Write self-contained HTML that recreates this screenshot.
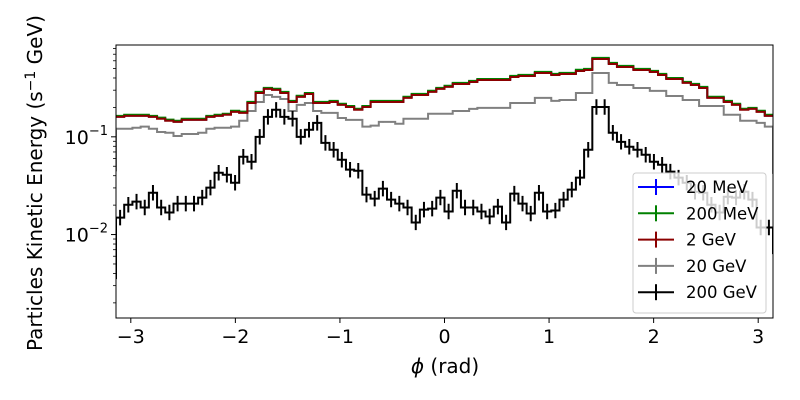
<!DOCTYPE html>
<html><head><meta charset="utf-8"><style>
body{margin:0;background:#fff}
svg{display:block;font-family:"DejaVu Sans","Liberation Sans",sans-serif}
</style></head><body>
<svg id="chart" width="800" height="400" viewBox="0 0 800 400" xmlns="http://www.w3.org/2000/svg"></svg>
<script>
const xTicks = [-3,-2,-1,0,1,2,3];
const xTickLabels = ["\u22123","\u22122","\u22121","0","1","2","3"];
const seriesNames = ["20 MeV","200 MeV","2 GeV","20 GeV","200 GeV"];
const redVals = [0.160,0.164,0.164,0.164,0.160,0.153,0.146,0.142,0.149,0.149,0.149,0.160,0.164,0.168,0.180,0.176,0.222,0.281,0.309,0.302,0.281,0.227,0.256,0.274,0.222,0.222,0.227,0.212,0.202,0.189,0.202,0.227,0.227,0.227,0.227,0.250,0.268,0.268,0.288,0.309,0.324,0.347,0.347,0.364,0.381,0.381,0.381,0.381,0.409,0.419,0.419,0.450,0.450,0.429,0.439,0.439,0.472,0.483,0.625,0.625,0.556,0.518,0.518,0.483,0.483,0.461,0.429,0.390,0.390,0.356,0.339,0.316,0.250,0.250,0.227,0.212,0.189,0.193,0.180,0.164];
const greenVals = [0.164,0.168,0.168,0.168,0.164,0.157,0.150,0.146,0.153,0.153,0.153,0.164,0.168,0.172,0.185,0.181,0.228,0.288,0.317,0.310,0.288,0.233,0.263,0.281,0.228,0.228,0.233,0.218,0.207,0.194,0.207,0.233,0.233,0.233,0.233,0.257,0.275,0.275,0.296,0.317,0.333,0.356,0.356,0.374,0.391,0.391,0.391,0.391,0.420,0.430,0.430,0.462,0.462,0.440,0.451,0.451,0.485,0.496,0.642,0.642,0.571,0.532,0.532,0.496,0.496,0.473,0.440,0.400,0.400,0.365,0.348,0.324,0.257,0.257,0.233,0.218,0.194,0.198,0.185,0.168];
const blueVals = [0.161,0.165,0.165,0.165,0.161,0.154,0.147,0.143,0.150,0.150,0.150,0.161,0.165,0.169,0.182,0.178,0.224,0.284,0.312,0.305,0.284,0.229,0.259,0.277,0.224,0.224,0.229,0.214,0.204,0.191,0.204,0.229,0.229,0.229,0.229,0.253,0.271,0.271,0.291,0.312,0.327,0.350,0.350,0.368,0.385,0.385,0.385,0.385,0.413,0.423,0.423,0.455,0.455,0.433,0.443,0.443,0.477,0.488,0.631,0.631,0.562,0.523,0.523,0.488,0.488,0.466,0.433,0.394,0.394,0.360,0.342,0.319,0.253,0.253,0.229,0.214,0.191,0.195,0.182,0.165];
const grayVals = [0.121,0.121,0.124,0.127,0.121,0.112,0.110,0.102,0.107,0.107,0.110,0.121,0.124,0.124,0.127,0.146,0.184,0.227,0.268,0.256,0.244,0.184,0.212,0.222,0.184,0.176,0.176,0.156,0.149,0.149,0.127,0.130,0.142,0.142,0.136,0.153,0.153,0.153,0.172,0.172,0.172,0.184,0.184,0.193,0.198,0.198,0.198,0.198,0.222,0.222,0.222,0.250,0.250,0.233,0.238,0.238,0.281,0.281,0.450,0.450,0.356,0.339,0.339,0.316,0.316,0.295,0.295,0.262,0.262,0.238,0.238,0.207,0.207,0.207,0.168,0.168,0.146,0.146,0.139,0.127];
const blackVals = [0.0149,0.0202,0.0217,0.0189,0.0268,0.0189,0.0168,0.0207,0.0207,0.0207,0.0239,0.0302,0.0429,0.0409,0.0339,0.0625,0.0556,0.100,0.160,0.189,0.160,0.153,0.100,0.118,0.139,0.0868,0.0737,0.0582,0.0461,0.0450,0.0256,0.0233,0.0295,0.0228,0.0207,0.0189,0.0133,0.0180,0.0184,0.0239,0.0172,0.0281,0.0189,0.0189,0.0172,0.0153,0.0193,0.0133,0.0262,0.0207,0.0164,0.0268,0.0172,0.0176,0.0228,0.0288,0.0382,0.0737,0.202,0.202,0.110,0.0889,0.0791,0.0737,0.0655,0.0556,0.0518,0.0440,0.0382,0.0339,0.0274,0.0268,0.0202,0.0168,0.0244,0.0239,0.0274,0.0228,0.0118,0.0118];
const relErr = [0.012,0.012,0.012,0.015,0.2];
const edgeLow = [null,null,null,0.0443,0.0035];
const edgeHighR = [null,null,null,0.0418,0.0063];

const L=116,R=773,T=45,B=318;
const xMin=-Math.PI,xMax=Math.PI;
const yTop=Math.log10(0.87), yBot=Math.log10(0.0014);
const X=v=>L+(v-xMin)/(xMax-xMin)*(R-L);
const Y=v=>T+(yTop-Math.log10(v))/(yTop-yBot)*(B-T);
const svg=document.getElementById('chart');
const NS="http://www.w3.org/2000/svg";
function mk(tag,attrs,parent){const e=document.createElementNS(NS,tag);for(const k in attrs)e.setAttribute(k,attrs[k]);(parent||svg).appendChild(e);return e;}

const clip=mk('clipPath',{id:'pc'});mk('rect',{x:L,y:T,width:R-L,height:B-T},clip);
const colors=["#0000ff","#008000","#8b0000","#808080","#000000"];
const allSeries=[blueVals,greenVals,redVals,grayVals,blackVals];
const plotG=mk('g',{'clip-path':'url(#pc)'});


const nb=redVals.length;
const order=[3,4,0,1,2];
order.forEach(s=>{
  const vals=allSeries[s];
  const w=(xMax-xMin)/nb;
  let d='';
  if(edgeLow[s]) d+=`M${X(xMin)},${Y(edgeLow[s])}L${X(xMin)},${Y(vals[0])}`; else d+=`M${X(xMin)},${Y(vals[0])}`;
  vals.forEach((v,i)=>{d+=`L${X(xMin+i*w)},${Y(v)}L${X(xMin+(i+1)*w)},${Y(v)}`;});
  if(edgeHighR[s]) d+=`L${X(xMax)},${Y(edgeHighR[s])}`;
  const p=mk('path',{d:d,fill:'none',stroke:colors[s],'stroke-width':2},plotG);
  
  
  let e='';
  vals.forEach((v,i)=>{const cx=X(xMin+(i+0.5)*w);e+=`M${cx},${Y(v*(1+relErr[s]))}L${cx},${Y(v/(1+relErr[s]))}`;});
  const eb=mk('path',{d:e,stroke:colors[s],'stroke-width':2},plotG);
  
  
});
const fr=mk('rect',{x:L,y:T,width:R-L,height:B-T,fill:'none',stroke:'#000','stroke-width':1});


xTicks.forEach((t,i)=>{
  mk('line',{x1:X(t),x2:X(t),y1:B,y2:B+5,stroke:'#000'});
  const tx=mk('text',{x:X(t),y:B+25,'font-size':19,'text-anchor':'middle'});
  tx.textContent=xTickLabels[i];
  
  
});
[-1,-2].forEach(p=>{
  const y=Y(Math.pow(10,p));
  mk('line',{x1:L-5,x2:L,y1:y,y2:y,stroke:'#000'});
  const tx=mk('text',{x:L-8,y:y+7,'font-size':19,'text-anchor':'end'});
  tx.innerHTML=`10<tspan dy="-9" font-size="13">\u2212${-p}</tspan>`;
  
  
});
[-3,-2,-1].forEach(p=>{for(let m=2;m<=9;m++){const v=m*Math.pow(10,p);const y=Y(v);if(y>=T&&y<=B)mk('line',{x1:L-3,x2:L,y1:y,y2:y,stroke:'#000','stroke-width':0.8});}});
const xl=mk('text',{x:445,y:373,'font-size':20,'text-anchor':'middle'});
xl.innerHTML='<tspan font-style="italic">\u03D5</tspan> (rad)';


const yl=mk('text',{x:0,y:0,'font-size':20,'text-anchor':'middle',transform:'translate(42,183) rotate(-90)'});
yl.innerHTML='Particles Kinetic Energy (s<tspan dy="-7" font-size="14">\u22121</tspan><tspan dy="7"> GeV)</tspan>';


const lg=mk('g',{});


mk('rect',{x:633,y:173,width:133,height:140,rx:3,fill:'#fff','fill-opacity':0.8,stroke:'#ccc'},lg);
seriesNames.forEach((n,i)=>{
  const y=187+i*26.3;
  const g=mk('g',{},lg);
  
  
  mk('line',{x1:638,x2:674,y1:y,y2:y,stroke:colors[i],'stroke-width':2},g);
  mk('line',{x1:656,x2:656,y1:y-8,y2:y+8,stroke:colors[i],'stroke-width':2},g);
  const t=mk('text',{x:686,y:y+6,'font-size':16.5},g);
  t.textContent=n;
});
</script>
</body></html>
